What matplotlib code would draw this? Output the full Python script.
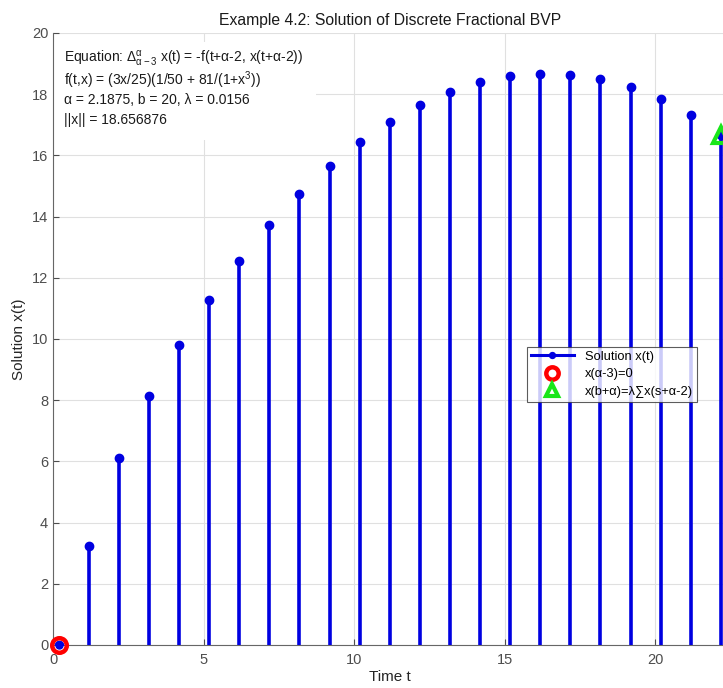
import numpy as np
import matplotlib
matplotlib.use("Agg")
import matplotlib.pyplot as plt
from matplotlib.patches import Rectangle

plt.rcParams['font.family'] = ['Liberation Sans', 'DejaVu Sans']
plt.rcParams['mathtext.fontset'] = 'custom'
plt.rcParams['mathtext.rm'] = 'Liberation Sans'
plt.rcParams['mathtext.it'] = 'Liberation Sans'

# problem parameters
alpha = 2.1875
b = 20
lam = 0.0156
norm_x = 18.656876

# solution values, t = alpha-3 + k  (shifted to start at 0.1875)
t = np.arange(23) + 0.1875
x = [0.0, 3.23, 6.11, 8.13, 9.80, 11.27, 12.55, 13.72, 14.73, 15.64,
     16.43, 17.08, 17.64, 18.07, 18.40, 18.60, 18.67, 18.63, 18.51,
     18.23, 17.83, 17.31, 16.67]

xticks = [0, 5, 10, 15, 20]
yticks = list(range(0, 21, 2))

info_lines = [
    'Equation: $\\Delta^{\\mathrm{\\alpha}}_{\\mathrm{\\alpha-3}}$ x(t) = -f(t+α-2, x(t+α-2))',
    'f(t,x) = (3x/25)(1/50 + 81/(1+x$^{3}$))',
    f'α = {alpha}, b = {b}, λ = {lam}',
    f'||x|| = {norm_x:.6f}',
]
info_y = [19.15, 18.45, 17.8, 17.15]

fig = plt.figure(figsize=(7.23, 6.88), dpi=100)
# axes runs a bit past the right edge of the figure, like the reference crop
ax = fig.add_axes([53 / 723, 43 / 688, 674 / 723, 612 / 688])

blue = (0.0, 0.0, 0.88)
ax.vlines(t, 0, x, color=blue, lw=2.6, zorder=3)
ax.plot(t, x, 'o', color=blue, ms=6, zorder=4, label='_nolegend_')
ax.plot([], [], '-o', color=blue, lw=2.2, ms=5, label='Solution x(t)')

ax.plot(t[0], x[0], 'o', mfc='none', mec='red', mew=3.2, ms=10.5, zorder=5,
        clip_on=False, label='x(α-3)=0')
ax.plot(t[-1], x[-1], '^', mfc='none', mec=(0.1, 0.9, 0.1), mew=3, ms=11,
        zorder=5, clip_on=False, label='x(b+α)=λ∑x(s+α-2)')
ax.plot(t[0], x[0], 'o', color=blue, ms=5, zorder=6, clip_on=False)

ax.set_xlim(0, 22.39)
ax.set_ylim(0, 20)
ax.set_xticks(xticks)
ax.set_yticks(yticks)
ax.grid(True, color=(0.88, 0.88, 0.88), lw=0.8)
ax.set_axisbelow(True)
for s in ['top', 'right']:
    ax.spines[s].set_visible(False)
for s in ['left', 'bottom']:
    ax.spines[s].set_color((0.4, 0.4, 0.4))
ax.tick_params(direction='in', length=4, colors=(0.3, 0.3, 0.3),
               labelsize=10.5)
ax.tick_params(axis='x', pad=6)

ax.set_title('Example 4.2: Solution of Discrete Fractional BVP',
             fontsize=11.3, color=(0.1, 0.1, 0.1), pad=6)
ax.set_xlabel('Time t', fontsize=11, color=(0.15, 0.15, 0.15), labelpad=2)
ax.set_ylabel('Solution x(t)', fontsize=11, color=(0.15, 0.15, 0.15),
              labelpad=4)

# white background behind the info text
ax.add_patch(Rectangle((0, 16.5), 8.75, 3.2, facecolor='white',
                       edgecolor='none', zorder=2))
for line, yy in zip(info_lines, info_y):
    ax.text(0.38, yy, line, fontsize=10, va='center', ha='left',
            color=(0.1, 0.1, 0.1), zorder=7)

leg = ax.legend(loc='upper right', bbox_to_anchor=(0.956, 0.487),
                fontsize=9.3, frameon=True, fancybox=False, borderpad=0.3,
                labelspacing=0.42, handlelength=3.3, handletextpad=0.9,
                borderaxespad=0, markerscale=0.85)
leg.get_frame().set_edgecolor((0.2, 0.2, 0.2))
leg.get_frame().set_linewidth(0.8)
leg.set_zorder(8)

fig.savefig('out.png', dpi=100)
